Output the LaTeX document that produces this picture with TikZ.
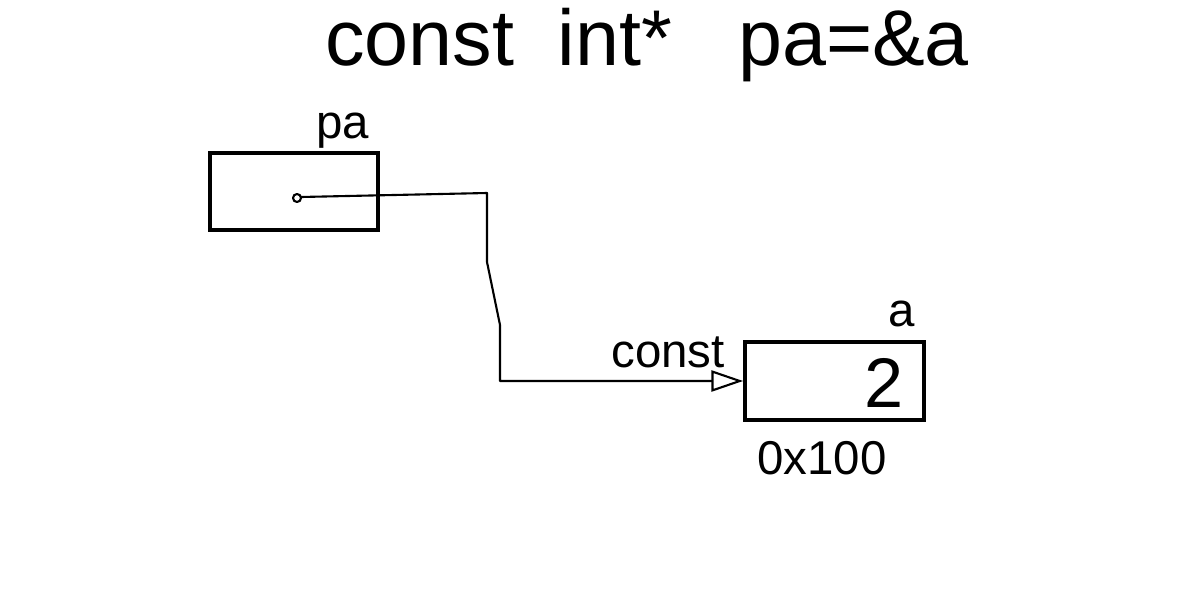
\documentclass[tikz,border=0pt]{standalone}
\usepackage{fontspec}
\setmainfont{Liberation Sans}
\usetikzlibrary{arrows.meta}

\tikzset{
  cell/.style={draw,line width=2.2pt,inner sep=0pt},
  wire/.style={line width=1.2pt,line join=round},
  hand/.style={inner sep=0pt,font=\fontsize{27}{30}\selectfont}
}

\begin{document}
\begin{tikzpicture}[x=0.02cm,y=-0.02cm]
\useasboundingbox (0,0) rectangle (1193,598);
\node[inner sep=0pt,font=\fontsize{45}{50}\selectfont] (decl) at (647,45) {const\ \ int*\ \ \ pa=\&a};
\node[cell,minimum width=3.36cm,minimum height=1.54cm] (pa) at (294,191.5) {};
\node[hand] (palbl) at (343,131) {pa};
\node[cell,minimum width=3.58cm,minimum height=1.56cm] (a) at (834.5,381) {};
\node[hand,font=\fontsize{40}{44}\selectfont] (val) at (884,383) {2};
\node[hand] (albl) at (902,314) {a};
\node[hand] (addr) at (822,458) {0x100};
\node[hand] (qual) at (668,352) {const};
\draw[wire] (297,198) circle[radius=4];
\coordinate (dot) at (301,197);
\draw[wire,-{Triangle[open,length=18pt,width=12pt]}] (dot) -- (487,193) -- (487,262) -- (500,325) -- (500,381) -- (a.west);
\end{tikzpicture}
\end{document}
